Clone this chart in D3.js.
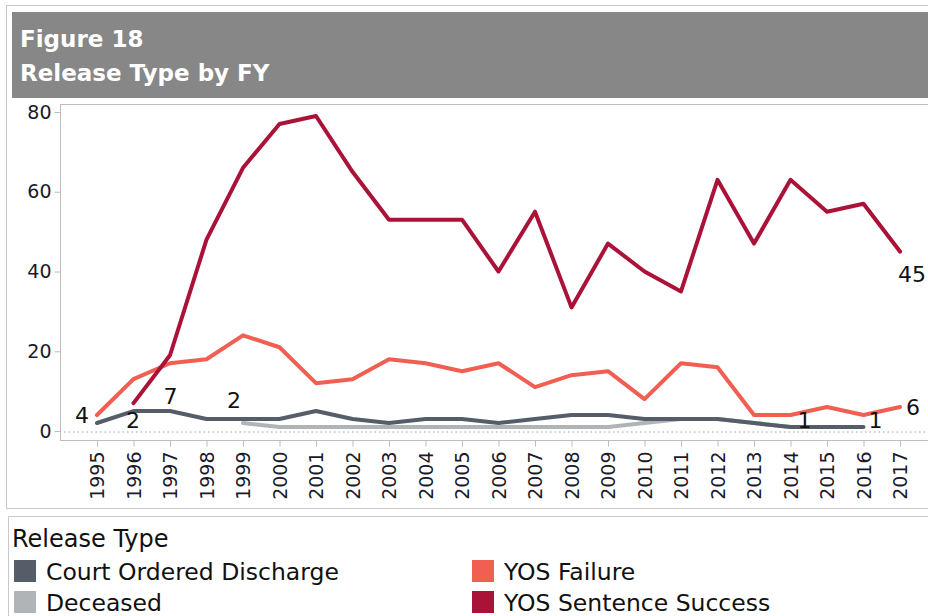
<!DOCTYPE html>
<html>
<head>
<meta charset="utf-8">
<script src="https://cdn.jsdelivr.net/npm/d3@7"></script>
<style>
  body { margin: 0; background: #fff; }
  text { font-family: "DejaVu Sans", sans-serif; }
</style>
</head>
<body>
<div id="chart"></div>
<script>
const years = d3.range(1995, 2018);
const yTicks = [0, 20, 40, 60, 80];

// null = no value that year
const courtOrdered = [2, 5, 5, 3, 3, 3, 5, 3, 2, 3, 3, 2, 3, 4, 4, 3, 3, 3, 2, 1, 1, 1, null];
const deceased = [null, null, null, null, 2, 1, 1, 1, 1, 1, 1, 1, 1, 1, 1, 2, 3, 3, 2, 1, null, null, null];
const yosFailure = [4, 13, 17, 18, 24, 21, 12, 13, 18, 17, 15, 17, 11, 14, 15, 8, 17, 16, 4, 4, 6, 4, 6];
const yosSuccess = [null, 7, 19, 48, 66, 77, 79, 65, 53, 53, 53, 40, 55, 31, 47, 40, 35, 63, 47, 63, 55, 57, 45];

const series = [
    {name: "Deceased", values: deceased, color: "#b1b4b6"},
    {name: "Court Ordered Discharge", values: courtOrdered, color: "#555e68"},
    {name: "YOS Failure", values: yosFailure, color: "#f05f52"},
    {name: "YOS Sentence Success", values: yosSuccess, color: "#ab1238"}
];
const legendOrder = ["Court Ordered Discharge", "YOS Failure", "Deceased", "YOS Sentence Success"];

// labels on first / last points: [series, year index, dx, dy]
const pointLabels = [
    ["YOS Failure", 0, -15, 8],
    ["Court Ordered Discharge", 0, 36, 5],
    ["YOS Sentence Success", 1, 37, 1],
    ["Deceased", 4, -9, -15],
    ["Deceased", 19, 14, 1],
    ["Court Ordered Discharge", 21, 12, 1],
    ["YOS Failure", 22, 13, 8],
    ["YOS Sentence Success", 22, 12, 30]
];

const width = 928, height = 616;
const svg = d3.select("#chart").append("svg")
    .attr("width", width)
    .attr("height", height);

// frame + title bar
svg.append("rect").attr("x", 6.5).attr("y", 5.5).attr("width", 930).attr("height", 503)
    .attr("fill", "none").attr("stroke", "#c8c8c8");
svg.append("rect").attr("x", 12).attr("y", 12).attr("width", 916).attr("height", 86)
    .attr("fill", "#878787");
svg.append("text").attr("x", 20).attr("y", 47).text("Figure 18")
    .attr("fill", "#fff").attr("font-size", 23).attr("font-weight", "bold");
svg.append("text").attr("x", 20).attr("y", 81).text("Release Type by FY")
    .attr("fill", "#fff").attr("font-size", 23).attr("font-weight", "bold");

const x = d3.scalePoint().domain(years).range([97, 900]);
const y = d3.scaleLinear().domain([0, 80]).range([431, 112]);

// plot border
svg.append("line").attr("x1", 60.5).attr("x2", 60.5).attr("y1", 104).attr("y2", 440)
    .attr("stroke", "#bdbdbd");
svg.append("line").attr("x1", 60).attr("x2", 928).attr("y1", 104.5).attr("y2", 104.5)
    .attr("stroke", "#bdbdbd");

// zero line
svg.append("line").attr("x1", 64).attr("x2", 926).attr("y1", y(0) + 1).attr("y2", y(0) + 1)
    .attr("stroke", "#a0a0a0").attr("stroke-dasharray", "1.5,3");

// y axis
const yAxis = svg.append("g")
    .attr("transform", "translate(60.5,0)")
    .call(d3.axisLeft(y).tickValues(yTicks).tickSize(6).tickPadding(3));
yAxis.select(".domain").remove();
yAxis.selectAll(".tick line").attr("stroke", "#bdbdbd");
yAxis.selectAll(".tick text").attr("font-size", 19).attr("fill", "#1a1a2a")
    .attr("font-family", "DejaVu Sans");

// x axis
const xAxis = svg.append("g")
    .attr("transform", "translate(0,440.5)")
    .call(d3.axisBottom(x).tickSize(6).tickSizeOuter(0));
xAxis.select(".domain").attr("d", "M60,0H928").attr("stroke", "#bdbdbd");
xAxis.selectAll(".tick line").attr("stroke", "#bdbdbd");
xAxis.selectAll(".tick text")
    .attr("font-size", 19).attr("fill", "#1a1a2a").attr("font-family", "DejaVu Sans")
    .attr("transform", "rotate(-90)")
    .attr("text-anchor", "end")
    .attr("x", -11).attr("y", 0).attr("dy", "0.35em");

// lines
const line = d3.line()
    .defined(d => d != null)
    .x((d, i) => x(years[i]))
    .y(d => y(d));

svg.append("g").selectAll("path")
    .data(series)
    .join("path")
    .attr("d", d => line(d.values))
    .attr("fill", "none")
    .attr("stroke", d => d.color)
    .attr("stroke-width", 4)
    .attr("stroke-linejoin", "round")
    .attr("stroke-linecap", "round");

// labels
svg.append("g").selectAll("text")
    .data(pointLabels)
    .join("text")
    .attr("x", d => x(years[d[1]]) + d[2])
    .attr("y", d => y(series.find(s => s.name === d[0]).values[d[1]]) + d[3])
    .attr("text-anchor", "middle")
    .attr("font-size", 22)
    .attr("fill", "#111")
    .text(d => series.find(s => s.name === d[0]).values[d[1]]);

// legend
svg.append("path").attr("d", "M8.5,630V516.5H930").attr("fill", "none").attr("stroke", "#c8c8c8");
svg.append("text").attr("x", 12).attr("y", 547).attr("font-size", 24).attr("fill", "#111")
    .text("Release Type");
const legend = svg.append("g").selectAll("g")
    .data(legendOrder)
    .join("g")
    .attr("transform", (d, i) => "translate(" + (i % 2 === 0 ? 14 : 472) + "," + (560 + Math.floor(i / 2) * 31) + ")");
legend.append("rect")
    .attr("width", 22).attr("height", 22)
    .attr("fill", d => series.find(s => s.name === d).color);
legend.append("text")
    .attr("x", 32).attr("y", 20)
    .attr("font-size", 23.5).attr("fill", "#111")
    .text(d => d);
</script>
</body>
</html>
